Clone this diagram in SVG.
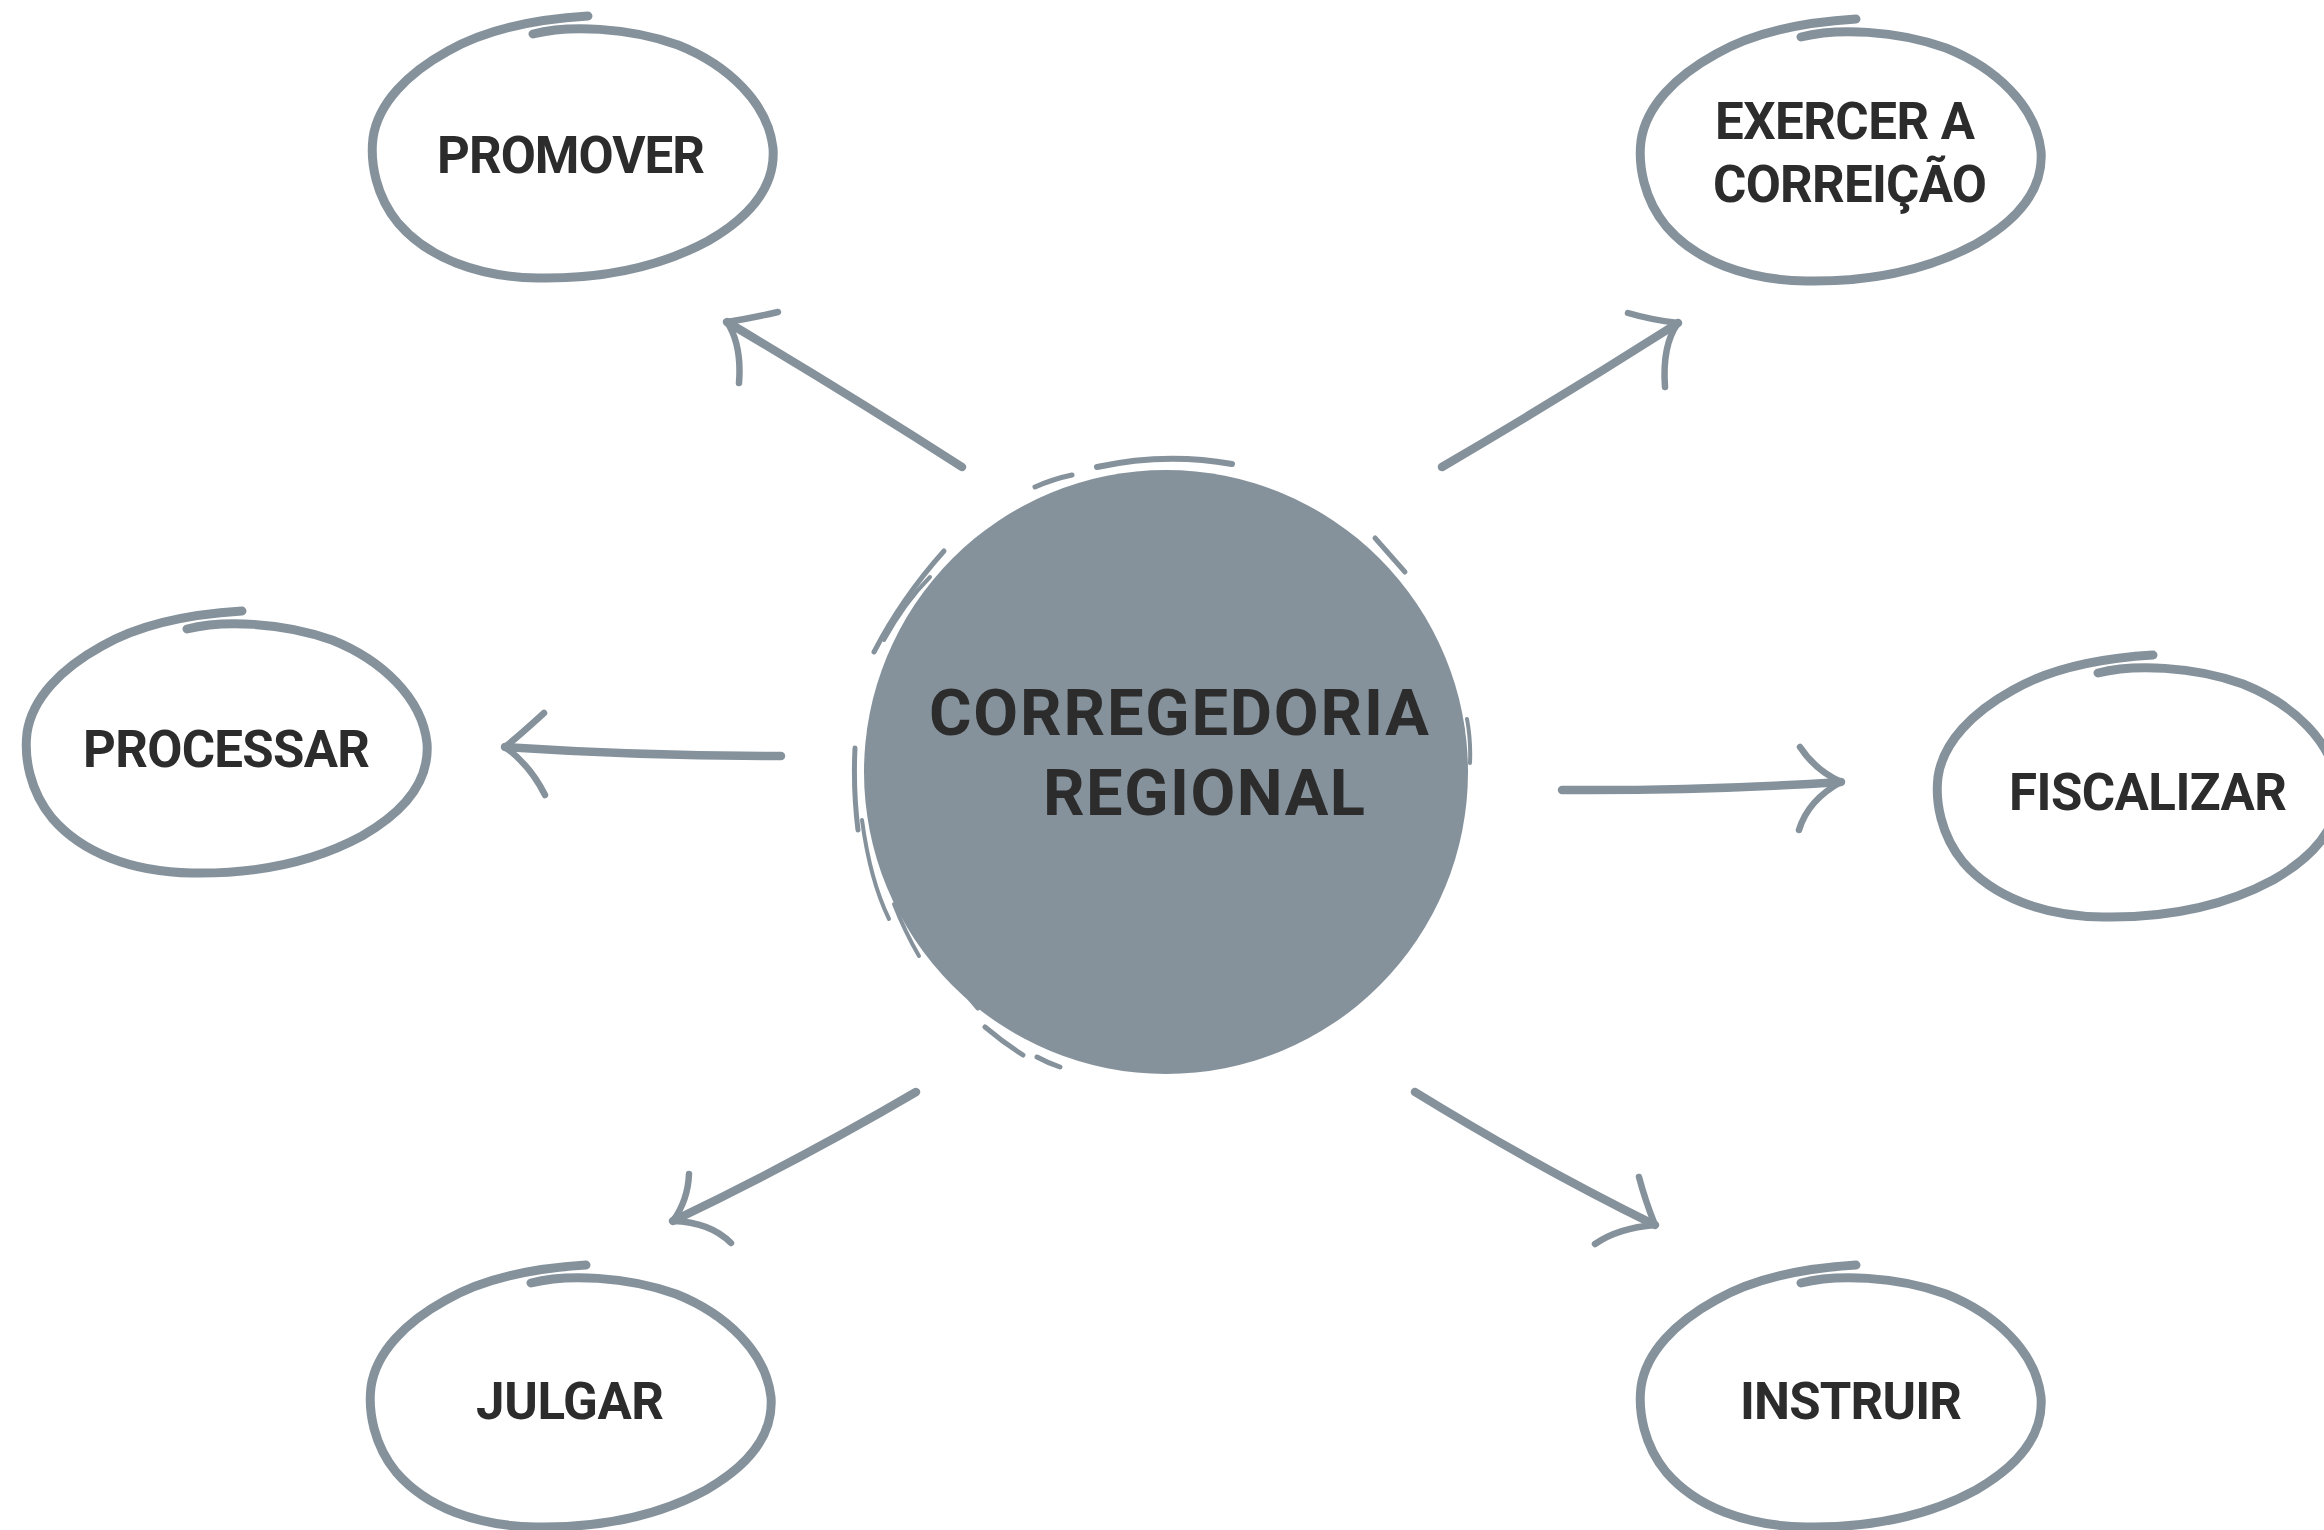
<svg xmlns="http://www.w3.org/2000/svg" width="2324" height="1530" viewBox="0 0 2324 1530">
<style>
.loop{fill:none;stroke:#85929c;stroke-width:9;stroke-linecap:round;stroke-linejoin:round}
.shaft{fill:none;stroke:#85929c;stroke-width:8.5;stroke-linecap:round;stroke-linejoin:round}
.barb{fill:none;stroke:#85929c;stroke-width:6.5;stroke-linecap:round;stroke-linejoin:round}
.brush{fill:none;stroke:#85929c;stroke-linecap:round}
.lbl{font-family:Roboto,"Liberation Sans",Arial,sans-serif;font-weight:700;font-size:51px;fill:#2c2c2c}
.big{font-family:Roboto,"Liberation Sans",Arial,sans-serif;font-weight:700;font-size:65px;fill:#2c2c2c}
</style>
<defs>
<path id="loop" class="loop" d="M165,21 C200,12 260,14 310,32 C360,52 400,90 405,135 C408,175 380,205 340,228 C290,255 230,266 170,265 C110,264 60,245 30,210 C8,183 2,150 5,125 C10,90 40,60 80,38 C120,15 170,6 220,3"/>
</defs>
<rect x="0" y="0" width="2324" height="1530" fill="#ffffff"/>

<g id="connectors">
  <g id="arrow-promover">
    <path class="shaft" d="M962,467 Q850,395 727,322"/>
    <path class="barb" d="M778,312 Q752,318 727,322 Q742,345 739,383"/>
  </g>
  <g id="arrow-exercer">
    <path class="shaft" d="M1442,467 Q1560,398 1678,323"/>
    <path class="barb" d="M1628,313 Q1652,320 1678,323 Q1662,345 1665,387"/>
  </g>
  <g id="arrow-processar">
    <path class="shaft" d="M781,756 Q640,756 505,747"/>
    <path class="barb" d="M544,713 Q520,735 505,747 Q530,765 545,795"/>
  </g>
  <g id="arrow-fiscalizar">
    <path class="shaft" d="M1562,790 Q1700,791 1841,782"/>
    <path class="barb" d="M1800,747 Q1815,770 1841,782 Q1808,800 1799,830"/>
  </g>
  <g id="arrow-julgar">
    <path class="shaft" d="M916,1092 Q800,1160 673,1221"/>
    <path class="barb" d="M689,1174 Q688,1200 673,1221 Q710,1222 731,1243"/>
  </g>
  <g id="arrow-instruir">
    <path class="shaft" d="M1415,1092 Q1537,1167 1655,1225"/>
    <path class="barb" d="M1639,1177 Q1645,1200 1655,1225 Q1618,1228 1595,1244"/>
  </g>
</g>

<g id="node-corregedoria">
  <circle cx="1166" cy="772" r="302" fill="#85929c"/>
  <path class="brush" stroke-width="6" d="M1097,467 Q1165,452 1232,464"/>
  <path class="brush" stroke-width="5" d="M1035,487 Q1053,479 1072,475"/>
  <path class="brush" stroke-width="5" d="M874,652 Q902,598 944,551"/>
  <path class="brush" stroke-width="4" d="M884,640 Q905,602 930,577"/>
  <path class="brush" stroke-width="5" d="M855,748 Q853,790 858,830"/>
  <path class="brush" stroke-width="4" d="M862,820 Q870,880 889,919"/>
  <path class="brush" stroke-width="4" d="M894,904 Q905,932 919,956"/>
  <path class="brush" stroke-width="5" d="M948,971 Q962,990 978,1008"/>
  <path class="brush" stroke-width="5" d="M985,1027 Q1004,1043 1023,1055"/>
  <path class="brush" stroke-width="5" d="M1037,1057 Q1048,1063 1060,1067"/>
  <path class="brush" stroke-width="5" d="M1375,538 Q1390,555 1405,572"/>
  <path class="brush" stroke-width="4" d="M1467,719 Q1471,740 1470,763"/>
  <text class="big" x="929" y="735" textLength="500" lengthAdjust="spacing">CORREGEDORIA</text>
  <text class="big" x="1043" y="815" textLength="322" lengthAdjust="spacing">REGIONAL</text>
</g>

<g id="node-promover">
  <use href="#loop" transform="translate(368,13)"/>
  <text class="lbl" x="437" y="173" textLength="268" lengthAdjust="spacing">PROMOVER</text>
</g>

<g id="node-exercer">
  <use href="#loop" transform="translate(1636,16)"/>
  <text class="lbl" x="1715" y="139" textLength="260" lengthAdjust="spacing">EXERCER A</text>
  <text class="lbl" x="1713" y="202" textLength="274" lengthAdjust="spacing">CORREIÇÃO</text>
</g>

<g id="node-processar">
  <use href="#loop" transform="translate(22,608)"/>
  <text class="lbl" x="83" y="767" textLength="287" lengthAdjust="spacing">PROCESSAR</text>
</g>

<g id="node-fiscalizar">
  <use href="#loop" transform="translate(1933,652)"/>
  <text class="lbl" x="2009" y="810" textLength="278" lengthAdjust="spacing">FISCALIZAR</text>
</g>

<g id="node-julgar">
  <use href="#loop" transform="translate(366,1262)"/>
  <text class="lbl" x="476" y="1419" textLength="188" lengthAdjust="spacing">JULGAR</text>
</g>

<g id="node-instruir">
  <use href="#loop" transform="translate(1636,1262)"/>
  <text class="lbl" x="1740" y="1419" textLength="222" lengthAdjust="spacing">INSTRUIR</text>
</g>
</svg>
